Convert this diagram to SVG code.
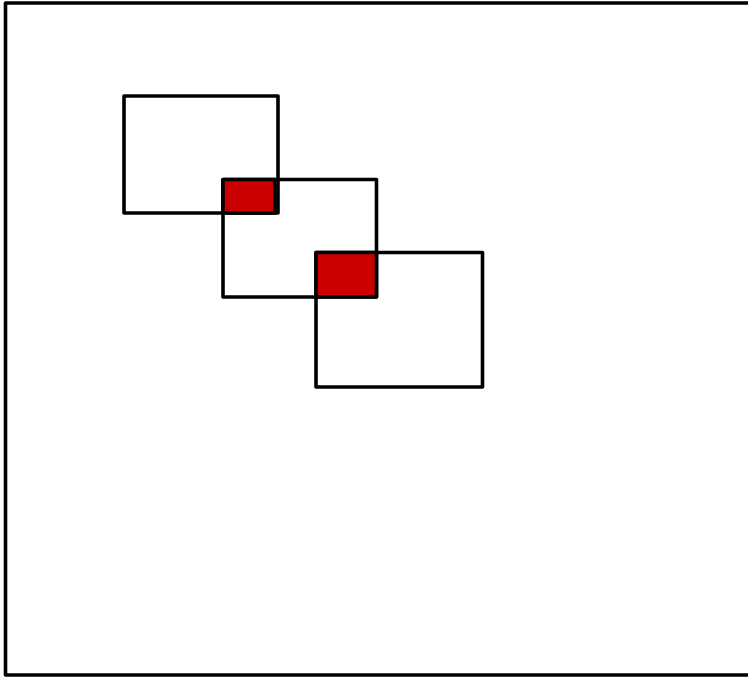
<svg xmlns="http://www.w3.org/2000/svg" width="748" height="677" viewBox="0 0 748 677">
<style>
.box{fill:none;stroke:#000;stroke-width:3.6;stroke-linejoin:round}
.ov{fill:#cc0000;stroke:#000;stroke-width:3.6;stroke-linejoin:round}
</style>
<rect width="748" height="677" fill="#fff"/>
<rect id="frame" class="box" x="5.5" y="3" width="760" height="672"/>
<g id="box1"><rect class="box" x="124" y="96" width="154" height="117"/></g>
<g id="box2"><rect class="box" x="223" y="179.5" width="153.5" height="117.5"/></g>
<g id="box3"><rect class="box" x="316" y="252.5" width="166.5" height="134.5"/></g>
<g id="overlap1"><rect class="ov" x="223" y="179.5" width="52" height="33.5"/></g>
<g id="overlap2"><rect class="ov" x="316" y="252.5" width="60.5" height="44.5"/></g>
<g id="connectors"></g>
</svg>
